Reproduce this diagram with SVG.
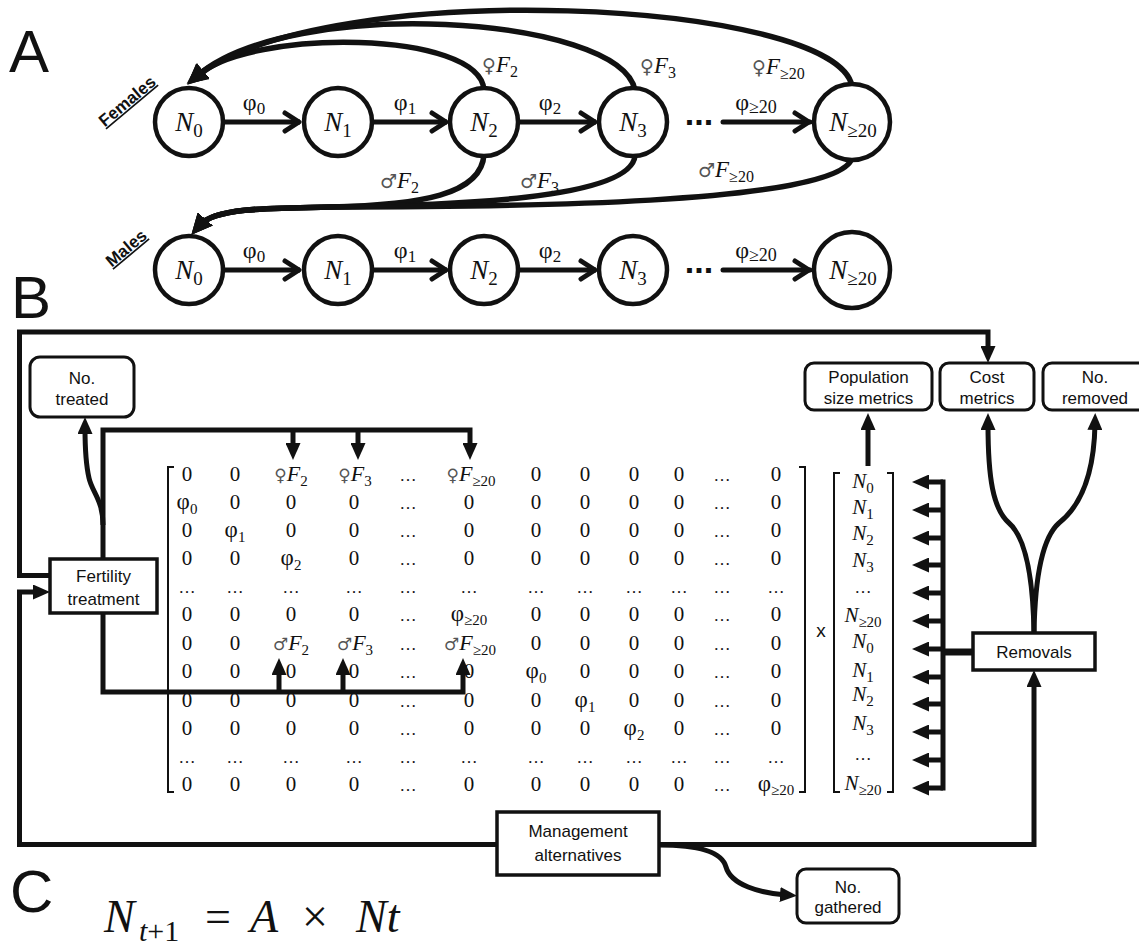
<svg xmlns="http://www.w3.org/2000/svg" width="1139" height="947" viewBox="0 0 1139 947">
<style>
.ln{fill:none;stroke:#111;stroke-width:5;stroke-linejoin:miter}
.arc{fill:none;stroke:#111;stroke-width:5.5;stroke-linecap:round}
.circ{fill:#fff;stroke:#111;stroke-width:4.5}
.box{fill:#fff;stroke:#111;stroke-width:3.5}
.rbox{fill:#fff;stroke:#111;stroke-width:3}
.lbl{font-family:"Liberation Sans",Arial,sans-serif;font-size:17px;text-anchor:middle;fill:#111}
.big{font-family:"Liberation Sans",Arial,sans-serif;font-size:60px;fill:#111}
.sex{font-family:"Liberation Sans",Arial,sans-serif;font-size:17px;font-weight:bold;text-decoration:underline;text-anchor:middle;fill:#111}
.ser{font-family:"Liberation Serif","DejaVu Serif",serif;fill:#111}
.it{font-style:italic}
.up{font-style:normal}
.sym{font-family:"DejaVu Sans",sans-serif;font-style:normal;fill:#555}
.node{font-size:27px;text-anchor:middle;font-style:italic}
.phi{font-size:24px;text-anchor:middle}
.m{font-family:"Liberation Serif","DejaVu Serif",serif;font-size:21px;text-anchor:middle;fill:#111}
.dt{font-size:17px}
.br{fill:none;stroke:#111;stroke-width:2}
.dots{font-family:"Liberation Sans",Arial,sans-serif;font-size:34px;font-weight:bold;text-anchor:middle;fill:#111}
</style>
<defs>
<marker id="chev" markerUnits="userSpaceOnUse" markerWidth="24" markerHeight="24" viewBox="-20 -12 24 24" refX="0" refY="0" orient="auto">
<path d="M-15,-9 L-1,0 L-15,9" fill="none" stroke="#111" stroke-width="5" stroke-linecap="round" stroke-linejoin="round"/>
</marker>
<marker id="ah" markerUnits="userSpaceOnUse" markerWidth="22" markerHeight="20" viewBox="0 0 22 20" refX="8" refY="10" orient="auto">
<path d="M0,0 L21,10 L0,20 z" fill="#111"/>
</marker>
<marker id="tri" markerUnits="userSpaceOnUse" markerWidth="17" markerHeight="15" viewBox="0 0 17 15" refX="6" refY="7.5" orient="auto">
<path d="M0,0 L17,7.5 L0,15 z" fill="#111"/>
</marker>
</defs>
<rect width="1139" height="947" fill="#fff"/>

<text class="big" x="9" y="72">A</text>
<text class="big" x="11" y="318">B</text>
<text class="big" x="10" y="912">C</text>

<g id="connectors">
  <path class="arc" d="M484,90 C480,30 250,28 197,76" marker-end="url(#ah)"/>
  <path class="arc" d="M635,90 C620,15 290,-5 197,76" marker-end="url(#ah)"/>
  <path class="arc" d="M852,86 C835,0 330,-25 197,76" marker-end="url(#ah)"/>
  <path class="arc" d="M484,154 C482,195 420,205 330,207 C270,208 215,208 200,225" marker-end="url(#ah)"/>
  <path class="arc" d="M635,156 C630,200 450,205 330,207 C270,208 215,208 200,225" marker-end="url(#ah)"/>
  <path class="arc" d="M852,158 C840,205 500,207 330,207 C270,208 215,208 200,225" marker-end="url(#ah)"/>
  <path class="ln" d="M225,122 H300" marker-end="url(#chev)"/>
  <path class="ln" d="M374,122 H447" marker-end="url(#chev)"/>
  <path class="ln" d="M520,122 H596" marker-end="url(#chev)"/>
  <path class="ln" d="M723,122 H810" stroke-linecap="round" marker-end="url(#chev)"/>
  <path class="ln" d="M225,270 H300" marker-end="url(#chev)"/>
  <path class="ln" d="M374,270 H447" marker-end="url(#chev)"/>
  <path class="ln" d="M520,270 H596" marker-end="url(#chev)"/>
  <path class="ln" d="M723,270 H810" stroke-linecap="round" marker-end="url(#chev)"/>

  <path class="ln" d="M50,575.5 H19.5 V332 H988 V352" marker-end="url(#tri)"/>
  <path class="ln" d="M497,844.5 H19.5 V592 H39" marker-end="url(#tri)"/>
  <path class="ln" d="M103,559 V430 H470 V449" marker-end="url(#tri)"/>
  <path class="ln" d="M293,430 V449" marker-end="url(#tri)"/>
  <path class="ln" d="M358,430 V449" marker-end="url(#tri)"/>
  <path class="ln" d="M103,613 V692 H463 V669" marker-end="url(#tri)"/>
  <path class="ln" d="M279,692 V669" marker-end="url(#tri)"/>
  <path class="ln" d="M343,692 V669" marker-end="url(#tri)"/>
  <path class="ln" d="M103,525 C103,500 92,492 89,478 C86,465 85,450 85,428" marker-end="url(#tri)"/>
  <path class="ln" d="M868,466 V424" marker-end="url(#tri)"/>
  <path class="ln" d="M943,479.5 V790.5"/>
  <path class="ln" d="M943,482 H923" marker-end="url(#tri)"/>
  <path class="ln" d="M943,510 H923" marker-end="url(#tri)"/>
  <path class="ln" d="M943,538 H923" marker-end="url(#tri)"/>
  <path class="ln" d="M943,565 H923" marker-end="url(#tri)"/>
  <path class="ln" d="M943,593 H923" marker-end="url(#tri)"/>
  <path class="ln" d="M943,621 H923" marker-end="url(#tri)"/>
  <path class="ln" d="M943,649 H923" marker-end="url(#tri)"/>
  <path class="ln" d="M943,677 H923" marker-end="url(#tri)"/>
  <path class="ln" d="M943,704 H923" marker-end="url(#tri)"/>
  <path class="ln" d="M943,732 H923" marker-end="url(#tri)"/>
  <path class="ln" d="M943,760 H923" marker-end="url(#tri)"/>
  <path class="ln" d="M943,788 H923" marker-end="url(#tri)"/>
  <path class="ln" style="stroke-width:7" d="M973,652 H943"/>
  <path class="ln" d="M1034,633 C1033,575 1025,537 1009,523 C993,509 988,478 988,424" marker-end="url(#tri)"/>
  <path class="ln" d="M1034,633 C1035,575 1043,537 1059,523 C1078,508 1094,478 1095,424" marker-end="url(#tri)"/>
  <path class="ln" d="M659,844.5 H1034 V681" marker-end="url(#tri)"/>
  <path class="ln" d="M659,845 C700,845 722,852 726,867 C731,885 760,893 786,895" marker-end="url(#tri)"/>
</g>

<g id="labels-a">
  <text class="sex" transform="translate(127,101) rotate(-40)" y="6">Females</text>
  <text class="sex" transform="translate(126,248) rotate(-40)" y="6">Males</text>
  <text class="ser phi" x="254" y="110">φ<tspan font-size="17" dy="4">0</tspan></text>
  <text class="ser phi" x="405" y="110">φ<tspan font-size="17" dy="4">1</tspan></text>
  <text class="ser phi" x="550" y="110">φ<tspan font-size="17" dy="4">2</tspan></text>
  <text class="ser phi" x="756" y="110">φ<tspan font-size="18" dy="3">≥20</tspan></text>
  <text class="ser phi" x="254" y="258">φ<tspan font-size="17" dy="4">0</tspan></text>
  <text class="ser phi" x="405" y="258">φ<tspan font-size="17" dy="4">1</tspan></text>
  <text class="ser phi" x="550" y="258">φ<tspan font-size="17" dy="4">2</tspan></text>
  <text class="ser phi" x="756" y="258">φ<tspan font-size="18" dy="3">≥20</tspan></text>
  <text class="dots" x="699" y="125">...</text>
  <text class="dots" x="699" y="273">...</text>
  <text class="ser" x="482" y="72" font-size="23"><tspan class="sym" font-size="19">♀</tspan><tspan class="it">F</tspan><tspan font-size="16" dy="5">2</tspan></text>
  <text class="ser" x="640" y="73" font-size="23"><tspan class="sym" font-size="19">♀</tspan><tspan class="it">F</tspan><tspan font-size="16" dy="5">3</tspan></text>
  <text class="ser" x="752" y="74" font-size="23"><tspan class="sym" font-size="19">♀</tspan><tspan class="it">F</tspan><tspan font-size="16" dy="5">≥20</tspan></text>
  <text class="ser" x="380" y="188" font-size="23"><tspan class="sym" font-size="19">♂</tspan><tspan class="it">F</tspan><tspan font-size="16" dy="5">2</tspan></text>
  <text class="ser" x="520" y="188" font-size="23"><tspan class="sym" font-size="19">♂</tspan><tspan class="it">F</tspan><tspan font-size="16" dy="5">3</tspan></text>
  <text class="ser" x="698" y="177" font-size="23"><tspan class="sym" font-size="19">♂</tspan><tspan class="it">F</tspan><tspan font-size="16" dy="5">≥20</tspan></text>
</g>

<g id="f-n0"><circle class="circ" cx="189" cy="122" r="34"/><text class="ser node" x="189" y="131">N<tspan class="up" font-size="19" dy="6">0</tspan></text></g>
<g id="f-n1"><circle class="circ" cx="338" cy="122" r="34"/><text class="ser node" x="338" y="131">N<tspan class="up" font-size="19" dy="6">1</tspan></text></g>
<g id="f-n2"><circle class="circ" cx="484" cy="122" r="34"/><text class="ser node" x="484" y="131">N<tspan class="up" font-size="19" dy="6">2</tspan></text></g>
<g id="f-n3"><circle class="circ" cx="633" cy="122" r="34"/><text class="ser node" x="633" y="131">N<tspan class="up" font-size="19" dy="6">3</tspan></text></g>
<g id="f-n20"><circle class="circ" cx="852" cy="122" r="38"/><text class="ser node" x="853" y="131">N<tspan class="up" font-size="19" dy="6">≥20</tspan></text></g>
<g id="m-n0"><circle class="circ" cx="189" cy="270" r="34"/><text class="ser node" x="189" y="279">N<tspan class="up" font-size="19" dy="6">0</tspan></text></g>
<g id="m-n1"><circle class="circ" cx="338" cy="270" r="34"/><text class="ser node" x="338" y="279">N<tspan class="up" font-size="19" dy="6">1</tspan></text></g>
<g id="m-n2"><circle class="circ" cx="484" cy="270" r="34"/><text class="ser node" x="484" y="279">N<tspan class="up" font-size="19" dy="6">2</tspan></text></g>
<g id="m-n3"><circle class="circ" cx="633" cy="270" r="34"/><text class="ser node" x="633" y="279">N<tspan class="up" font-size="19" dy="6">3</tspan></text></g>
<g id="m-n20"><circle class="circ" cx="852" cy="270" r="38"/><text class="ser node" x="853" y="279">N<tspan class="up" font-size="19" dy="6">≥20</tspan></text></g>

<g id="no-treated"><rect class="rbox" x="30" y="357" width="104" height="60" rx="10"/><text class="lbl" x="82" y="384">No.</text><text class="lbl" x="82" y="405">treated</text></g>
<g id="fertility"><rect class="box" x="50" y="559" width="107" height="54"/><text class="lbl" x="103.5" y="582">Fertility</text><text class="lbl" x="103.5" y="605">treatment</text></g>
<g id="pop-metrics"><rect class="rbox" x="805" y="363" width="127" height="47" rx="9"/><text class="lbl" x="868.5" y="383">Population</text><text class="lbl" x="868.5" y="404">size metrics</text></g>
<g id="cost-metrics"><rect class="rbox" x="940" y="363" width="94" height="47" rx="9"/><text class="lbl" x="987" y="383">Cost</text><text class="lbl" x="987" y="404">metrics</text></g>
<g id="no-removed"><rect class="rbox" x="1043" y="363" width="105" height="47" rx="9"/><text class="lbl" x="1095" y="383">No.</text><text class="lbl" x="1095" y="404">removed</text></g>
<g id="removals"><rect class="box" x="973" y="633" width="122" height="37"/><text class="lbl" x="1034" y="658">Removals</text></g>
<g id="management"><rect class="box" x="497" y="812" width="162" height="63"/><text class="lbl" x="578" y="837" font-size="18">Management</text><text class="lbl" x="578" y="861" font-size="18">alternatives</text></g>
<g id="no-gathered"><rect class="rbox" x="797" y="869" width="102" height="54" rx="9"/><text class="lbl" x="848" y="893">No.</text><text class="lbl" x="848" y="913">gathered</text></g>

<g id="matrix">
  <path class="br" d="M174,467 H168 V792 H174"/>
  <path class="br" d="M799,467 H805 V792 H799"/>
  <!-- R1 -->
  <text class="m" x="187" y="481">0</text><text class="m" x="235" y="481">0</text>
  <text class="m" x="291" y="481"><tspan class="sym" font-size="17">♀</tspan><tspan class="it" font-size="22">F</tspan><tspan font-size="15" dy="5">2</tspan></text>
  <text class="m" x="355" y="481"><tspan class="sym" font-size="17">♀</tspan><tspan class="it" font-size="22">F</tspan><tspan font-size="15" dy="5">3</tspan></text>
  <text class="m dt" x="408" y="481">…</text>
  <text class="m" x="471" y="481"><tspan class="sym" font-size="17">♀</tspan><tspan class="it" font-size="22">F</tspan><tspan font-size="15" dy="5">≥20</tspan></text>
  <text class="m" x="536" y="481">0</text><text class="m" x="585" y="481">0</text><text class="m" x="634" y="481">0</text><text class="m" x="679" y="481">0</text>
  <text class="m dt" x="722" y="481">…</text><text class="m" x="776" y="481">0</text>
  <!-- R2 -->
  <text class="m" x="187" y="509"><tspan font-size="23">φ</tspan><tspan font-size="15" dy="5">0</tspan></text>
  <text class="m" x="235" y="509">0</text><text class="m" x="291" y="509">0</text><text class="m" x="354" y="509">0</text>
  <text class="m dt" x="408" y="509">…</text><text class="m" x="469" y="509">0</text>
  <text class="m" x="536" y="509">0</text><text class="m" x="585" y="509">0</text><text class="m" x="634" y="509">0</text><text class="m" x="679" y="509">0</text>
  <text class="m dt" x="722" y="509">…</text><text class="m" x="776" y="509">0</text>
  <!-- R3 -->
  <text class="m" x="187" y="537">0</text>
  <text class="m" x="235" y="537"><tspan font-size="23">φ</tspan><tspan font-size="15" dy="5">1</tspan></text>
  <text class="m" x="291" y="537">0</text><text class="m" x="354" y="537">0</text>
  <text class="m dt" x="408" y="537">…</text><text class="m" x="469" y="537">0</text>
  <text class="m" x="536" y="537">0</text><text class="m" x="585" y="537">0</text><text class="m" x="634" y="537">0</text><text class="m" x="679" y="537">0</text>
  <text class="m dt" x="722" y="537">…</text><text class="m" x="776" y="537">0</text>
  <!-- R4 -->
  <text class="m" x="187" y="565">0</text><text class="m" x="235" y="565">0</text>
  <text class="m" x="291" y="565"><tspan font-size="23">φ</tspan><tspan font-size="15" dy="5">2</tspan></text>
  <text class="m" x="354" y="565">0</text>
  <text class="m dt" x="408" y="565">…</text><text class="m" x="469" y="565">0</text>
  <text class="m" x="536" y="565">0</text><text class="m" x="585" y="565">0</text><text class="m" x="634" y="565">0</text><text class="m" x="679" y="565">0</text>
  <text class="m dt" x="722" y="565">…</text><text class="m" x="776" y="565">0</text>
  <!-- R5 -->
  <text class="m dt" x="187" y="593">…</text><text class="m dt" x="235" y="593">…</text><text class="m dt" x="291" y="593">…</text><text class="m dt" x="354" y="593">…</text>
  <text class="m dt" x="408" y="593">…</text><text class="m dt" x="469" y="593">…</text><text class="m dt" x="536" y="593">…</text><text class="m dt" x="585" y="593">…</text>
  <text class="m dt" x="634" y="593">…</text><text class="m dt" x="679" y="593">…</text><text class="m dt" x="722" y="593">…</text><text class="m dt" x="776" y="593">…</text>
  <!-- R6 -->
  <text class="m" x="187" y="621">0</text><text class="m" x="235" y="621">0</text><text class="m" x="291" y="621">0</text><text class="m" x="354" y="621">0</text>
  <text class="m dt" x="408" y="621">…</text>
  <text class="m" x="469" y="621"><tspan font-size="23">φ</tspan><tspan font-size="15" dy="4">≥20</tspan></text>
  <text class="m" x="536" y="621">0</text><text class="m" x="585" y="621">0</text><text class="m" x="634" y="621">0</text><text class="m" x="679" y="621">0</text>
  <text class="m dt" x="722" y="621">…</text><text class="m" x="776" y="621">0</text>
  <!-- R7 -->
  <text class="m" x="187" y="650">0</text><text class="m" x="235" y="650">0</text>
  <text class="m" x="291" y="650"><tspan class="sym" font-size="17">♂</tspan><tspan class="it" font-size="22">F</tspan><tspan font-size="15" dy="5">2</tspan></text>
  <text class="m" x="355" y="650"><tspan class="sym" font-size="17">♂</tspan><tspan class="it" font-size="22">F</tspan><tspan font-size="15" dy="5">3</tspan></text>
  <text class="m dt" x="408" y="650">…</text>
  <text class="m" x="470" y="650"><tspan class="sym" font-size="17">♂</tspan><tspan class="it" font-size="22">F</tspan><tspan font-size="15" dy="5">≥20</tspan></text>
  <text class="m" x="536" y="650">0</text><text class="m" x="585" y="650">0</text><text class="m" x="634" y="650">0</text><text class="m" x="679" y="650">0</text>
  <text class="m dt" x="722" y="650">…</text><text class="m" x="776" y="650">0</text>
  <!-- R8 -->
  <text class="m" x="187" y="678">0</text><text class="m" x="235" y="678">0</text><text class="m" x="291" y="678">0</text><text class="m" x="354" y="678">0</text>
  <text class="m dt" x="408" y="678">…</text><text class="m" x="469" y="678">0</text>
  <text class="m" x="536" y="678"><tspan font-size="23">φ</tspan><tspan font-size="15" dy="5">0</tspan></text>
  <text class="m" x="585" y="678">0</text><text class="m" x="634" y="678">0</text><text class="m" x="679" y="678">0</text>
  <text class="m dt" x="722" y="678">…</text><text class="m" x="776" y="678">0</text>
  <!-- R9 -->
  <text class="m" x="187" y="707">0</text><text class="m" x="235" y="707">0</text><text class="m" x="291" y="707">0</text><text class="m" x="354" y="707">0</text>
  <text class="m dt" x="408" y="707">…</text><text class="m" x="469" y="707">0</text><text class="m" x="536" y="707">0</text>
  <text class="m" x="585" y="707"><tspan font-size="23">φ</tspan><tspan font-size="15" dy="5">1</tspan></text>
  <text class="m" x="634" y="707">0</text><text class="m" x="679" y="707">0</text>
  <text class="m dt" x="722" y="707">…</text><text class="m" x="776" y="707">0</text>
  <!-- R10 -->
  <text class="m" x="187" y="735">0</text><text class="m" x="235" y="735">0</text><text class="m" x="291" y="735">0</text><text class="m" x="354" y="735">0</text>
  <text class="m dt" x="408" y="735">…</text><text class="m" x="469" y="735">0</text><text class="m" x="536" y="735">0</text><text class="m" x="585" y="735">0</text>
  <text class="m" x="634" y="735"><tspan font-size="23">φ</tspan><tspan font-size="15" dy="5">2</tspan></text>
  <text class="m" x="679" y="735">0</text>
  <text class="m dt" x="722" y="735">…</text><text class="m" x="776" y="735">0</text>
  <!-- R11 -->
  <text class="m dt" x="187" y="763">…</text><text class="m dt" x="235" y="763">…</text><text class="m dt" x="291" y="763">…</text><text class="m dt" x="354" y="763">…</text>
  <text class="m dt" x="408" y="763">…</text><text class="m dt" x="469" y="763">…</text><text class="m dt" x="536" y="763">…</text><text class="m dt" x="585" y="763">…</text>
  <text class="m dt" x="634" y="763">…</text><text class="m dt" x="679" y="763">…</text><text class="m dt" x="722" y="763">…</text><text class="m dt" x="776" y="763">…</text>
  <!-- R12 -->
  <text class="m" x="187" y="791">0</text><text class="m" x="235" y="791">0</text><text class="m" x="291" y="791">0</text><text class="m" x="354" y="791">0</text>
  <text class="m dt" x="408" y="791">…</text><text class="m" x="469" y="791">0</text>
  <text class="m" x="536" y="791">0</text><text class="m" x="585" y="791">0</text><text class="m" x="634" y="791">0</text><text class="m" x="679" y="791">0</text>
  <text class="m dt" x="722" y="791">…</text>
  <text class="m" x="776" y="791"><tspan font-size="23">φ</tspan><tspan font-size="15" dy="4">≥20</tspan></text>
</g>

<text x="821" y="637" font-family="Liberation Sans, Arial, sans-serif" font-size="19" text-anchor="middle" fill="#111">x</text>

<g id="vector">
  <path class="br" d="M840,473 H834 V792 H840"/>
  <path class="br" d="M887,473 H893 V792 H887"/>
  <text class="m it" x="863" y="488" font-size="23">N<tspan class="up" font-size="15" dy="5">0</tspan></text>
  <text class="m it" x="863" y="514" font-size="23">N<tspan class="up" font-size="15" dy="5">1</tspan></text>
  <text class="m it" x="863" y="540" font-size="23">N<tspan class="up" font-size="15" dy="5">2</tspan></text>
  <text class="m it" x="863" y="567" font-size="23">N<tspan class="up" font-size="15" dy="5">3</tspan></text>
  <text class="m dt" x="863" y="593">…</text>
  <text class="m it" x="863" y="622" font-size="23">N<tspan class="up" font-size="15" dy="5">≥20</tspan></text>
  <text class="m it" x="863" y="648" font-size="23">N<tspan class="up" font-size="15" dy="5">0</tspan></text>
  <text class="m it" x="863" y="677" font-size="23">N<tspan class="up" font-size="15" dy="5">1</tspan></text>
  <text class="m it" x="863" y="701" font-size="23">N<tspan class="up" font-size="15" dy="5">2</tspan></text>
  <text class="m it" x="863" y="730" font-size="23">N<tspan class="up" font-size="15" dy="5">3</tspan></text>
  <text class="m dt" x="863" y="760">…</text>
  <text class="m it" x="863" y="790" font-size="23">N<tspan class="up" font-size="15" dy="5">≥20</tspan></text>
</g>

<text class="ser" y="932" font-size="46"><tspan x="104" font-style="italic">N</tspan><tspan x="139" y="941" font-size="30" font-style="italic">t</tspan><tspan font-size="30" y="941">+1</tspan><tspan x="205" y="932">=</tspan><tspan x="250" font-style="italic">A</tspan><tspan x="302">×</tspan><tspan x="356" font-style="italic">Nt</tspan></text>
</svg>
